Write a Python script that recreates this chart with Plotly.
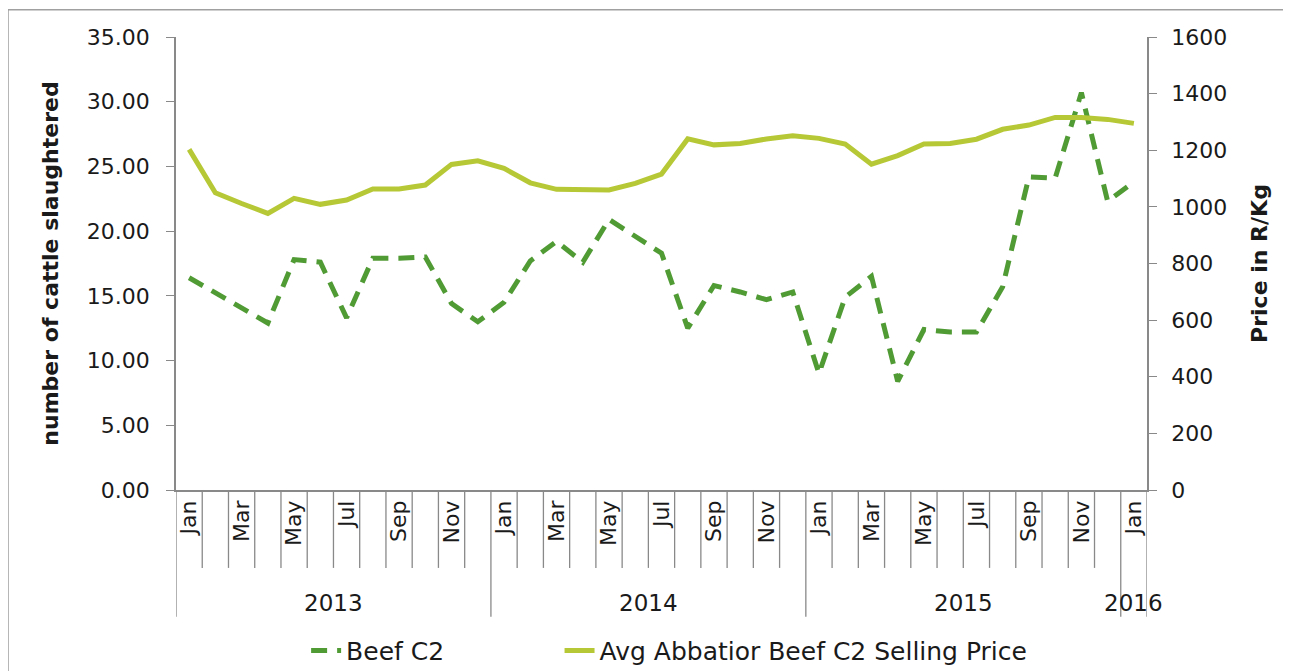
import plotly.graph_objects as go

months = ["Jan", "Feb", "Mar", "Apr", "May", "Jun", "Jul", "Aug", "Sep", "Oct", "Nov", "Dec"] * 3 + ["Jan"]
years = ["2013"] * 12 + ["2014"] * 12 + ["2015"] * 12 + ["2016"]

beef_c2 = [16.4, 15.2, 14.0, 12.9, 17.8, 17.6, 13.3, 17.9, 17.9, 18.0, 14.4, 13.0,
           14.5, 17.7, 19.2, 17.6, 20.9, 19.6, 18.3, 12.5, 15.8, 15.3, 14.7, 15.3,
           9.0, 14.9, 16.5, 8.4, 12.4, 12.2, 12.2, 15.7, 24.2, 24.1, 30.7, 22.3, 23.8]

price = [1203, 1050, 1012, 977, 1030, 1009, 1024, 1063, 1063, 1077, 1150, 1163,
         1136, 1085, 1062, 1063, 1060, 1083, 1116, 1240, 1219, 1224, 1240, 1251,
         1242, 1222, 1151, 1181, 1222, 1224, 1239, 1274, 1289, 1316, 1316, 1309, 1295]

left_ticks = [0, 5, 10, 15, 20, 25, 30, 35]
right_ticks = [0, 200, 400, 600, 800, 1000, 1200, 1400, 1600]

FONT = "DejaVu Sans"
AXIS = "#898989"
TXT = "#1a1a1a"
C_BEEF = "#519b35"
C_PRICE = "#b7c836"

idx = list(range(len(months)))

fig = go.Figure()
fig.add_trace(go.Scatter(
    x=idx, y=beef_c2, name="Beef C2", mode="lines", legend="legend",
    line=dict(color=C_BEEF, width=5, dash="16px,10px"),
))
fig.add_trace(go.Scatter(
    x=idx, y=price, name="Avg Abbatior Beef C2 Selling Price", mode="lines",
    legend="legend2", line=dict(color=C_PRICE, width=5), yaxis="y2",
))

shapes = []
# category boundary ticks below the axis
for i in range(len(months) + 1):
    b = i - 0.5
    is_year = i == 0 or i == len(months) or years[i] != years[i - 1]
    shapes.append(dict(type="line", xref="x", yref="paper", x0=b, x1=b,
                       y0=0, y1=-0.28 if is_year else -0.172,
                       line=dict(color=AXIS, width=1.3)))
# outer chart border
shapes.append(dict(type="rect", xref="paper", yref="paper",
                   x0=-0.173, x1=1.142, y0=-0.45, y1=1.06,
                   line=dict(color="#a0a0a0", width=1.5)))

annotations = []
uniq = []
for y in years:
    if y not in uniq:
        uniq.append(y)
for y in uniq:
    pos = [i for i, v in enumerate(years) if v == y]
    annotations.append(dict(xref="x", yref="paper", x=(pos[0] + pos[-1]) / 2, y=-0.249,
                            yanchor="middle", text=y, showarrow=False,
                            font=dict(family=FONT, size=23, color=TXT)))

legend_common = dict(orientation="h", y=-0.355, yanchor="middle", xanchor="left",
                     font=dict(family=FONT, size=25, color=TXT),
                     bgcolor="rgba(0,0,0,0)")

fig.update_layout(
    width=1291, height=671,
    margin=dict(l=168, r=152, t=29, b=189, autoexpand=False),
    paper_bgcolor="white", plot_bgcolor="white",
    font=dict(family=FONT, size=22, color=TXT),
    showlegend=True,
    legend=dict(x=0.134, **legend_common),
    legend2=dict(x=0.395, **legend_common),
    xaxis=dict(
        range=[-0.5, len(months) - 0.5],
        tickmode="array",
        tickvals=idx[::2], ticktext=months[::2],
        tickangle=-90, ticks="", showgrid=False, zeroline=False,
        showline=True, linecolor=AXIS, linewidth=1.5,
        tickfont=dict(family=FONT, size=22, color=TXT),
    ),
    yaxis=dict(
        range=[0, 35], tickvals=left_ticks, tickformat=".2f",
        ticks="outside", ticklen=8, tickcolor=AXIS, tickwidth=1.3,
        ticklabelstandoff=12,
        showline=True, linecolor=AXIS, linewidth=1.5,
        showgrid=False, zeroline=False,
        tickfont=dict(family=FONT, size=22, color=TXT),
        title=dict(text="<b>number of cattle slaughtered</b>", standoff=22,
                   font=dict(family=FONT, size=22, color=TXT)),
    ),
    yaxis2=dict(
        range=[0, 1600], tickvals=right_ticks, overlaying="y", side="right",
        ticks="outside", ticklen=8, tickcolor=AXIS, tickwidth=1.3,
        ticklabelstandoff=10,
        showline=True, linecolor=AXIS, linewidth=1.5,
        showgrid=False, zeroline=False,
        tickfont=dict(family=FONT, size=22, color=TXT),
        title=dict(text="<b>Price in R/Kg</b>", standoff=25,
                   font=dict(family=FONT, size=22, color=TXT)),
    ),
    shapes=shapes,
    annotations=annotations,
)

fig.write_html("out.html")
